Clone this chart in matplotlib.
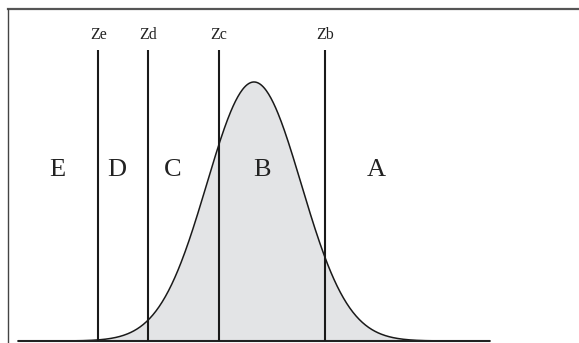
import numpy as np
import matplotlib.pyplot as plt

# Normal curve parameters (z units) and cut points
mu = 0.0
sigma = 1.0
z_range = (-5.0, 5.0)
cut_names = ['Ze', 'Zd', 'Zc', 'Zb']
cut_values = [-3.3, -2.25, -0.74, 1.5]
grade_names = ['E', 'D', 'C', 'B', 'A']
grade_pos = [-4.17, -2.9, -1.72, 0.17, 2.6]

plt.rcParams['font.family'] = ['Liberation Serif', 'DejaVu Serif']

fig = plt.figure(figsize=(5.79, 3.43), dpi=100)
ax = fig.add_axes([0, 0, 1, 1])

# pixel mapping: x_px = 254 + 47.2*z ; base at y_px=341, peak at 82
ax.set_xlim(-254 / 47.2, (579 - 254) / 47.2)
ax.set_ylim(-2 / 649.3, 341 / 649.3)
ax.axis('off')

z = np.linspace(z_range[0], z_range[1], 600)
pdf = np.exp(-0.5 * ((z - mu) / sigma) ** 2) / (sigma * np.sqrt(2 * np.pi))
ax.fill_between(z, 0, pdf, color='#e3e4e6', lw=0)
ax.plot(z, pdf, color='#1a1a1a', lw=1.1)

ax.hlines(0, z_range[0], z_range[1], color='#222222', lw=1.5)

line_top = (341 - 50) / 649.3
for name, val in zip(cut_names, cut_values):
    ax.vlines(val, 0, line_top, color='#1a1a1a', lw=1.5)
    ax.text(val, (341 - 35) / 649.3, name, ha='center', va='center',
            fontsize=11.5, color='#222222')

for name, pos in zip(grade_names, grade_pos):
    ax.text(pos, (341 - 170) / 649.3, name, ha='center', va='center',
            fontsize=19, color='#222222')

# partial frame (top and left edges)
fig.add_artist(plt.Line2D([8 / 579, 1], [1 - 9 / 343, 1 - 9 / 343],
                          color='#555555', lw=1.6))
fig.add_artist(plt.Line2D([8 / 579, 8 / 579], [0, 1 - 9 / 343],
                          color='#444444', lw=1.0))

fig.savefig('out.png', dpi=100)
